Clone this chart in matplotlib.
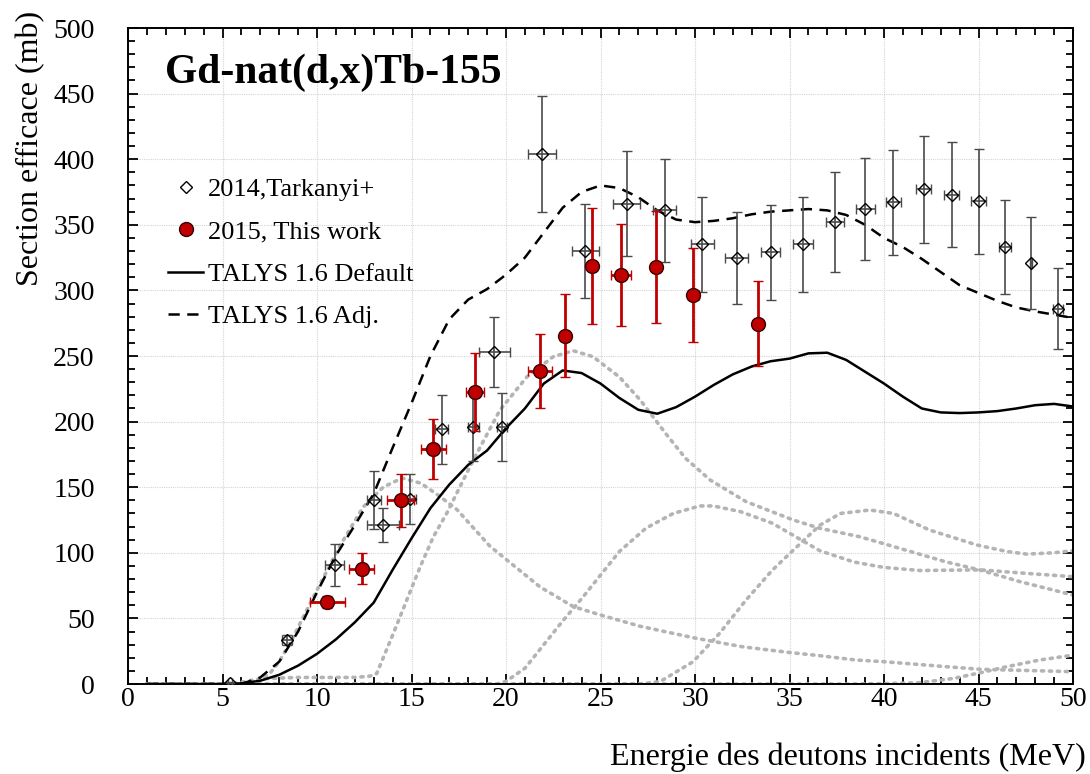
import matplotlib
matplotlib.use("Agg")
import matplotlib.pyplot as plt
from matplotlib.ticker import MultipleLocator
from matplotlib.lines import Line2D

plt.rcParams['font.family'] = ['Liberation Serif', 'DejaVu Serif']

# --- Experimental data: 2014, Tarkanyi+ ---
tark_x = [5.41, 8.41, 10.94, 13.0, 13.48, 14.92, 16.6, 18.28, 19.38, 19.8, 21.9, 24.2, 26.38,
          28.4, 30.39, 32.2, 34.0, 35.7, 37.41, 39.0, 40.5, 42.1, 43.58, 45.0, 46.4, 47.8, 49.2]
tark_y = [1, 33.5, 91, 140, 121, 141, 194, 196, 253, 196, 404, 330, 366,
          361, 335, 325, 329, 335, 352, 362, 367, 377, 373, 368, 333, 321, 286]
tark_yerr = [0.5, 4, 16, 22, 13, 19, 26, 26, 27, 26, 44, 36, 40,
             39, 36, 35, 36, 36, 38, 39, 40, 41, 40, 40, 36, 35, 31]
tark_xerr = [0.1, 0.26, 0.5, 0.37, 0.84, 0.33, 0.35, 0.3, 0.81, 0.25, 0.72, 0.71, 0.71,
             0.62, 0.6, 0.6, 0.52, 0.52, 0.5, 0.5, 0.4, 0.4, 0.4, 0.4, 0.3, 0.05, 0.26]

# --- Experimental data: 2015, This work ---
red_x = [10.55, 12.37, 14.42, 16.16, 18.34, 21.82, 23.13, 24.57, 26.08, 27.95, 29.91, 33.35]
red_y = [62.5, 88, 140, 179, 222.5, 238.6, 265.6, 318.6, 311.7, 317.8, 296.5, 274.6]
red_yerr = [4.5, 12, 20, 23, 29.5, 28.4, 31.8, 44.3, 38.6, 42.7, 36, 32.5]
red_xerr = [0.93, 0.67, 0.7, 0.65, 0.48, 0.63, 0.0, 0.2, 0.55, 0.0, 0.3, 0.0]

# --- TALYS 1.6 Default ---
tal_x = list(range(1, 51))
tal_def = [0, 0, 0, 0, 0, 0.5, 2.5, 7, 14, 23, 34, 47, 62, 87, 111, 134, 152, 167, 178, 195,
           210, 229, 239, 237, 229, 218, 209, 206, 211, 219, 228, 236, 242, 246, 248, 252, 252.5,
           247, 238, 229, 219, 210, 207, 206.5, 207, 208, 210, 212.5, 213.5, 211.5]
# --- TALYS 1.6 Adj. ---
tal_adj = [0, 0, 0, 0, 0, 0, 5, 17, 40, 70, 98, 121, 145, 180, 214, 250, 278, 293, 301, 312,
           325, 344, 363, 375, 380, 378, 371, 361, 354, 352, 353, 355, 358, 360, 361, 362, 361,
           357.5, 350, 340, 333, 324, 314, 304, 298, 292, 287, 284, 281.5, 279]

# --- Dotted contributions ---
d1_x = [1, 6, 6.5, 7, 7.5, 8, 8.75, 9.8, 11.2, 12.45, 13.5, 14.5, 15.5, 16.5, 17.4, 19.15,
        21.8, 23.56, 25, 27.1, 30, 32.5, 35, 36.6, 38.5, 40, 43.3, 45.1, 50]
d1_y = [0, 0, 1, 3, 8, 17, 36, 66, 105, 135, 150, 157, 153, 143, 133, 105,
        74, 59, 52.6, 44, 35, 28.4, 24, 21.6, 18.3, 17, 13.2, 11.2, 9.4]
d2_x = [1, 5.5, 7, 9, 12, 12.8, 13.16, 14.04, 14.75, 15.45, 16.15, 16.86, 18.27, 19.68, 21.1,
        22.5, 23.56, 24.6, 26.0, 27.1, 28.5, 29.5, 30.8, 32.7, 35.2, 36.6, 38.7, 39.97, 43.3,
        45.08, 47.2, 50]
d2_y = [0, 0, 4, 5, 5, 6, 8, 38.6, 64, 89, 112, 130, 170.7, 208.8, 234,
        249.5, 254, 249.5, 234, 216.5, 190, 172, 155.5, 139, 125, 118.7, 112.3, 107, 93,
        86.9, 78, 67.8]
d3_x = [1, 19.5, 20, 21, 22, 23, 24, 25, 26, 27.4, 28.85, 30.26, 30.97, 32.4, 34.1, 36.6,
        38.4, 39.97, 41.9, 45.1, 47.55, 50]
d3_y = [0, 0, 2, 12, 30, 48, 65, 83, 101, 118.7, 130, 135.7, 135.7, 131.4, 122.5, 101.6,
        93, 88.9, 86.5, 87, 84.3, 81.8]
d4_x = [1, 27, 28.15, 29.9, 31.3, 32.7, 34.1, 35.2, 36.6, 37.7, 39.26, 40.5, 42.4, 44.9,
        46.5, 47.55, 48.96, 50]
d4_y = [0, 0, 1.8, 17, 38.6, 64, 86.9, 102, 121, 130, 132.6, 130, 117.4, 106,
        101, 99, 100, 101.6]
d5_x = [1, 38, 40, 41.9, 43.7, 45.1, 46.5, 48.25, 50]
d5_y = [0, 0, 0.3, 1, 4.3, 8.6, 13.2, 18.3, 22]

fig = plt.figure(figsize=(10.9, 7.74), dpi=100)
ax = fig.add_axes([128/1090, 90/774, 945/1090, 656/774])

ax.set_xlim(0, 50)
ax.set_ylim(0, 500)

ax.grid(True, which='major', color='#d4d4d4', linestyle=(0, (1, 1)), linewidth=0.8)
ax.set_axisbelow(True)

dot_style = dict(color='#b4b4b4', linewidth=2.6, linestyle=(0, (0.6, 1.6)),
                 dash_capstyle='round', zorder=1.5)
for xs, ys in [(d1_x, d1_y), (d2_x, d2_y), (d3_x, d3_y), (d4_x, d4_y), (d5_x, d5_y)]:
    ax.plot(xs, ys, **dot_style)

ax.plot(tal_x, tal_def, color='black', linewidth=1.8, zorder=2)
ax.plot(tal_x, tal_adj, color='black', linewidth=1.8, linestyle=(0, (4.5, 3)), zorder=2)

ax.errorbar(tark_x, tark_y, xerr=tark_xerr, yerr=tark_yerr, fmt='D', markersize=6.5,
            markerfacecolor='none', markeredgecolor='black', markeredgewidth=1.0,
            ecolor='#4a4a4a', elinewidth=1.2, capsize=3.5, capthick=1.2, zorder=3)
ax.errorbar(red_x, red_y, xerr=red_xerr, yerr=red_yerr, fmt='o', markersize=10,
            markerfacecolor='#c00000', markeredgecolor='#3a0000', markeredgewidth=1.0,
            ecolor='#c00000', elinewidth=2.0, capsize=3.5, capthick=2.0, zorder=4)

ax.xaxis.set_major_locator(MultipleLocator(5))
ax.xaxis.set_minor_locator(MultipleLocator(1))
ax.yaxis.set_major_locator(MultipleLocator(50))
ax.yaxis.set_minor_locator(MultipleLocator(10))
ax.tick_params(which='both', direction='in', top=True, right=True, width=1.3)
ax.tick_params(which='major', length=7)
ax.tick_params(which='minor', length=5)
ax.tick_params(axis='x', labelsize=20, pad=2)
ax.tick_params(axis='y', labelsize=20, pad=24)
for lab in ax.get_yticklabels():
    lab.set_horizontalalignment('right')
for s in ax.spines.values():
    s.set_linewidth(1.4)

ax.text(37/945, (684-73)/656, 'Gd-nat(d,x)Tb-155', transform=ax.transAxes,
        fontsize=30, fontweight='bold', va='center', ha='left')

handles = [
    Line2D([], [], marker='D', markersize=6.5, markerfacecolor='none', markeredgecolor='black',
           linestyle='none'),
    Line2D([], [], marker='o', markersize=10, markerfacecolor='#c00000',
           markeredgecolor='#3a0000', linestyle='none'),
    Line2D([], [], color='black', linewidth=1.8),
    Line2D([], [], color='black', linewidth=1.8, linestyle=(0, (4.5, 3))),
]
labels = ['2014,Tarkanyi+', '2015, This work', 'TALYS 1.6 Default', 'TALYS 1.6 Adj.']
leg = ax.legend(handles, labels, loc='upper left', bbox_to_anchor=(29/945, (684-167)/656),
                frameon=False, fontsize=19, labelspacing=0.72, handlelength=1.36,
                handletextpad=0.17, borderaxespad=0)

fig.text(0.028, 1 - 148/774, 'Section efficace (mb)', rotation=90, fontsize=23,
         ha='center', va='center')
fig.text(1086/1090, 1 - 757/774, 'Energie des deutons incidents (MeV)', fontsize=23,
         ha='right', va='center')

fig.savefig('out.png', dpi=100)
